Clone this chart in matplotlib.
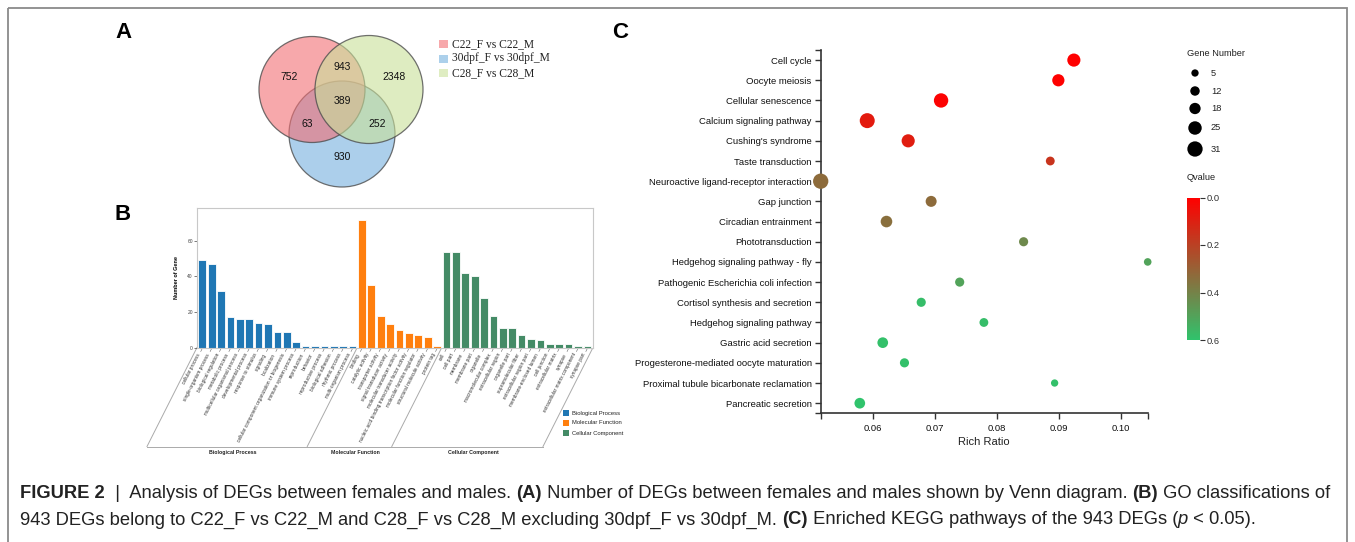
import matplotlib
matplotlib.use("Agg")
import matplotlib.pyplot as plt
import numpy as np
from matplotlib.patches import Circle, Rectangle
from matplotlib.colors import LinearSegmentedColormap, Normalize
from matplotlib.cm import ScalarMappable

plt.rcParams['font.family'] = ['Liberation Sans', 'DejaVu Sans']

# ---------------- data: panel A (Venn) ----------------
venn_sets = ["C22_F vs C22_M", "30dpf_F vs 30dpf_M", "C28_F vs C28_M"]
venn_regions = ["C22 only", "C22&C28", "C28 only", "C22&30dpf", "all", "C28&30dpf", "30dpf only"]
venn_values = [752, 943, 2348, 63, 389, 252, 930]

# ---------------- data: panel B (GO) ----------------
bp_terms = ["cellular process", "single-organism process", "biological regulation", "metabolic process",
            "multicellular organismal process", "developmental process", "response to stimulus", "signaling",
            "localization", "cellular component organization or biogenesis", "immune system process",
            "reproduction", "behavior", "reproductive process", "biological adhesion", "rhythmic process",
            "multi-organism process"]
bp_counts = [49, 47, 32, 17, 16, 16, 14, 13, 9, 9, 3, 1, 1, 1, 1, 1, 1]
mf_terms = ["binding", "catalytic activity", "transporter activity", "signal transducer activity",
            "molecular transducer activity", "nucleic acid binding transcription factor activity",
            "molecular function regulator", "structural molecule activity", "protein tag"]
mf_counts = [72, 35, 18, 13, 10, 8, 7, 6, 1]
cc_terms = ["cell", "cell part", "membrane", "membrane part", "organelle", "macromolecular complex",
            "extracellular region", "organelle part", "supramolecular fiber", "extracellular region part",
            "membrane-enclosed lumen", "cell junction", "extracellular matrix", "synapse",
            "extracellular matrix component", "synapse part"]
cc_counts = [54, 54, 42, 40, 28, 18, 11, 11, 7, 5, 4, 2, 2, 2, 1, 1]
go_categories = ["Biological Process", "Molecular Function", "Cellular Component"]
go_colors = ["#1f77b4", "#ff7f0e", "#448b66"]

# ---------------- data: panel C (KEGG) ----------------
pathways = ["Cell cycle", "Oocyte meiosis", "Cellular senescence", "Calcium signaling pathway",
            "Cushing's syndrome", "Taste transduction", "Neuroactive ligand-receptor interaction",
            "Gap junction", "Circadian entrainment", "Phototransduction", "Hedgehog signaling pathway - fly",
            "Pathogenic Escherichia coli infection", "Cortisol synthesis and secretion",
            "Hedgehog signaling pathway", "Gastric acid secretion", "Progesterone-mediated oocyte maturation",
            "Proximal tubule bicarbonate reclamation", "Pancreatic secretion"]
rich_ratio = [0.0924, 0.0899, 0.0710, 0.0591, 0.0657, 0.0886, 0.0516, 0.0694, 0.0622, 0.0843,
              0.1043, 0.0740, 0.0678, 0.0779, 0.0616, 0.0651, 0.0893, 0.0579]
gene_number = [24, 21, 28, 30, 24, 10, 31, 17, 19, 11, 6, 11, 11, 10, 16, 11, 5, 16]
qvalue = [0.0, 0.003, 0.01, 0.08, 0.09, 0.16, 0.33, 0.33, 0.34, 0.42, 0.50, 0.50, 0.58, 0.58,
          0.59, 0.59, 0.59, 0.60]
size_legend = [5, 12, 18, 25, 31]
q_ticks = [0.0, 0.2, 0.4, 0.6]

# ---------------- figure ----------------
W, H = 1355, 542
fig = plt.figure(figsize=(W / 100, H / 100), dpi=100)


def px_axes(l, t, r, b, **kw):
    return fig.add_axes([l / W, 1 - b / H, (r - l) / W, (b - t) / H], **kw)


ov = fig.add_axes([0, 0, 1, 1])
ov.set_xlim(0, W)
ov.set_ylim(H, 0)
ov.axis('off')

# outer frame
ov.add_patch(Rectangle((8, 8), 1339, 700, fill=False, ec='#8a8a8a', lw=1.3, clip_on=False))

# panel letters
for lab, (x, y) in zip("ABC", [(123, 32), (123, 215), (620, 33)]):
    ov.text(x, y, lab, fontsize=16, fontweight='bold', ha='center', va='center')

# ---------------- panel A ----------------
circ_geom = {"30dpf_F vs 30dpf_M": ((342, 134), 53),
             "C22_F vs C22_M": ((312, 89.5), 53),
             "C28_F vs C28_M": ((369, 89.5), 54)}
circ_col = {"C22_F vs C22_M": (0.95, 0.43, 0.45),
            "30dpf_F vs 30dpf_M": (0.46, 0.69, 0.87),
            "C28_F vs C28_M": (0.79, 0.88, 0.60)}
alpha = 0.6
for name in ["30dpf_F vs 30dpf_M", "C22_F vs C22_M", "C28_F vs C28_M"]:
    (cx, cy), r = circ_geom[name]
    ov.add_patch(Circle((cx, cy), r, fc=circ_col[name] + (alpha,), ec=(0.3, 0.3, 0.3, 0.8), lw=0.9))
num_pos = [(289, 77), (342, 67), (394, 77), (307, 124), (342, 101), (377, 124), (342, 157)]
for (x, y), v in zip(num_pos, venn_values):
    ov.text(x, y, str(v), fontsize=7.5, ha='center', va='center', color='#111')
for i, name in enumerate(venn_sets):
    y = 44 + 14.5 * i
    c = circ_col[name]
    fc = tuple(1 - alpha * (1 - ch) for ch in c)
    ov.add_patch(Rectangle((439, y - 4), 9, 8, fc=fc, ec='none'))
    ov.text(452, y, name, fontsize=8.3, va='center', ha='left', family=['Liberation Serif'], color='#222')

# ---------------- panel B ----------------
terms = bp_terms + mf_terms + cc_terms
counts = bp_counts + mf_counts + cc_counts
cols = [go_colors[0]] * len(bp_terms) + [go_colors[1]] * len(mf_terms) + [go_colors[2]] * len(cc_terms)
xs = np.arange(len(terms))
axB = px_axes(197, 208, 593, 347.5)
axB.bar(xs, counts, width=0.82, color=cols, edgecolor='white', linewidth=0.6)
axB.set_xlim(-0.56, 41.6)
axB.set_ylim(0, 78.5)
axB.set_xticks([])
axB.set_yticks([0, 20, 40, 60])
axB.tick_params(axis='y', labelsize=3.5, length=2, width=0.5, pad=1, colors='#444')
for s in axB.spines.values():
    s.set_color('#c8c8c8')
    s.set_linewidth(0.8)
axB.set_ylabel("Number of Gene", fontsize=4, fontweight='bold', labelpad=6)


def b_px(x):
    d = axB.transData.transform((x, 0))
    return ov.transData.inverted().transform(d)


slant_dx, slant_dy = -50, 99
bounds = [-0.56, len(bp_terms) - 0.5, len(bp_terms) + len(mf_terms) - 0.5, 41.6]
bottom_pts = []
for bx in bounds:
    px, py = b_px(bx)
    ov.plot([px, px + slant_dx], [py, py + slant_dy], color='#aaaaaa', lw=0.7)
    bottom_pts.append(px + slant_dx)
by_bottom = b_px(0)[1] + slant_dy
ov.plot([bottom_pts[0], bottom_pts[-1]], [by_bottom, by_bottom], color='#aaaaaa', lw=0.7)
for k, cat in enumerate(go_categories):
    xm = (bottom_pts[k] + bottom_pts[k + 1]) / 2 + 6
    ov.text(xm, by_bottom + 6, cat, fontsize=3.8, fontweight='bold', ha='center', va='center', color='#222')

for i, t in enumerate(terms):
    px, py = b_px(i)
    ov.plot([px, px - 1.5], [py + 1, py + 4], color='#666', lw=0.4)
    ov.text(px - 3, py + 6, t, fontsize=3.4, rotation=63, rotation_mode='anchor',
            ha='right', va='center', color='#333')

for k, cat in enumerate(go_categories):
    y = 413 + 10 * k
    ov.add_patch(Rectangle((563, y - 3), 6, 6, fc=go_colors[k], ec='none'))
    ov.text(572, y, cat, fontsize=4.2, ha='left', va='center', color='#222')

# ---------------- panel C ----------------
cmap = LinearSegmentedColormap.from_list("qv", ["#ff0000", "#30c36c"])
norm = Normalize(0, 0.6)


def dot_size(n):
    d = 7.3 + (np.asarray(n, float) - 5) / 26 * 8.0
    return (d * 0.72) ** 2


axC = px_axes(820.7, 50, 1147.7, 413.3)
yi = np.arange(len(pathways))
axC.scatter(rich_ratio, yi, s=dot_size(gene_number), c=qvalue, cmap=cmap, norm=norm,
            linewidths=0, clip_on=False, zorder=3)
axC.set_ylim(len(pathways) - 0.5, -0.5)
axC.set_xlim(min(rich_ratio), max(rich_ratio))
axC.set_yticks(yi)
axC.set_yticklabels(pathways)
axC.set_xticks([0.06, 0.07, 0.08, 0.09, 0.10])
axC.set_xticklabels(["0.06", "0.07", "0.08", "0.09", "0.10"])
axC.set_xticks(list(axC.get_xlim()), minor=True)
axC.set_yticks(list(axC.get_ylim()), minor=True)
axC.tick_params(which='both', labelsize=6.8, length=4.5, width=1.0, colors='#333', pad=2)
axC.tick_params(axis='x', which='both', labelcolor='#111', pad=3)
axC.tick_params(axis='y', which='both', labelcolor='#111')
for s in ['top', 'right']:
    axC.spines[s].set_visible(False)
for s in ['left', 'bottom']:
    axC.spines[s].set_color('#333')
    axC.spines[s].set_linewidth(1.2)
axC.set_xlabel("Rich Ratio", fontsize=8, labelpad=3, color='#222')

# size legend
ov.text(1187, 54, "Gene Number", fontsize=6.7, ha='left', va='center', color='#222')
leg_y = [73, 91, 108.5, 128, 149]
ov.scatter([1195] * len(size_legend), leg_y, s=dot_size(size_legend), color='black', linewidths=0)
for y, v in zip(leg_y, size_legend):
    ov.text(1211, y, str(v), fontsize=6.7, ha='left', va='center', color='#222')

# colour legend
ov.text(1187, 178, "Qvalue", fontsize=6.7, ha='left', va='center', color='#222')
cax = px_axes(1187, 197.5, 1200, 340)
cb = fig.colorbar(ScalarMappable(norm=norm, cmap=cmap), cax=cax, ticks=q_ticks)
cb.outline.set_visible(False)
cax.invert_yaxis()
cax.set_yticklabels([f"{t:.1f}" for t in q_ticks])
cax.tick_params(labelsize=6.7, length=3.5, width=0.8, colors='#333', pad=1.5)

# ---------------- caption ----------------
renderer = fig.canvas.get_renderer()


def run_width(txt, size, weight, style):
    t1 = ov.text(0, 0, txt + ".", fontsize=size, fontweight=weight, fontstyle=style)
    t2 = ov.text(0, 0, ".", fontsize=size, fontweight=weight, fontstyle=style)
    w = t1.get_window_extent(renderer).width - t2.get_window_extent(renderer).width
    t1.remove()
    t2.remove()
    return w


line1 = [("FIGURE 2", 'bold', 'normal'), ("  |  Analysis of DEGs between females and males. ", 'normal', 'normal'),
         ("(A)", 'bold', 'normal'), (" Number of DEGs between females and males shown by Venn diagram. ", 'normal', 'normal'),
         ("(B)", 'bold', 'normal'), (" GO classifications of", 'normal', 'normal')]
line2 = [("943 DEGs belong to C22_F vs C22_M and C28_F vs C28_M excluding 30dpf_F vs 30dpf_M. ", 'normal', 'normal'),
         ("(C)", 'bold', 'normal'), (" Enriched KEGG pathways of the 943 DEGs (", 'normal', 'normal'),
         ("p", 'normal', 'italic'), (" < 0.05).", 'normal', 'normal')]

base = 10.0
w1 = sum(run_width(t, base, w, s) for t, w, s in line1)
cap_size = base * 1310 / w1


def draw_line(runs, y):
    x = 20
    for t, w, s in runs:
        ov.text(x, y, t, fontsize=cap_size, fontweight=w, fontstyle=s, ha='left', va='center', color='#222')
        x += run_width(t, cap_size, w, s)


draw_line(line1, 494)
draw_line(line2, 520)

fig.savefig("out.png", dpi=100)
